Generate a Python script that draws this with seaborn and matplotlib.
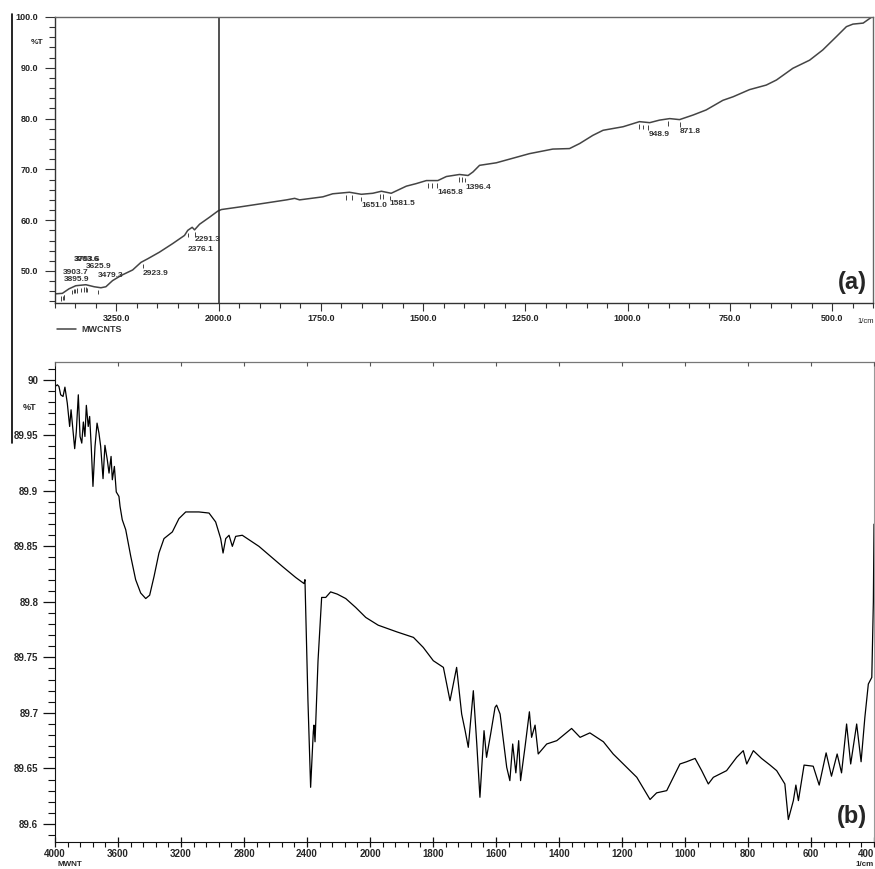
import numpy as np
import matplotlib
matplotlib.use("Agg")
import matplotlib.pyplot as plt
from matplotlib.lines import Line2D
from matplotlib.ticker import NullLocator
import seaborn as sns

# --- DATA: panel (a), MWCNTS, %T vs wavenumber (1/cm) ---
wn_a = [4000, 3910, 3828, 3746, 3623, 3521, 3439, 3378, 3297, 3194, 3051, 2949,
        2867, 2724, 2561, 2417, 2377, 2323, 2294, 2233, 2110, 2009, 1993, 1949,
        1883, 1834, 1814, 1802, 1745, 1721, 1680, 1651, 1623, 1602, 1578, 1541,
        1517, 1492, 1464, 1443, 1411, 1390, 1378, 1362, 1321, 1240, 1183, 1142,
        1117, 1085, 1060, 1011, 971, 946, 922, 897, 873, 840, 808, 767,
        742, 702, 661, 636, 596, 555, 523, 490, 465, 449, 424, 403]
pt_a = [45.5, 45.6, 46.5, 47.1, 47.3, 46.9, 46.7, 46.9, 48.1, 49.1, 50.2, 51.7,
        52.4, 53.7, 55.4, 57.0, 58.0, 58.6, 58.1, 59.2, 60.6, 61.8, 62.1, 62.6,
        63.4, 64.0, 64.3, 64.0, 64.6, 65.2, 65.5, 65.1, 65.3, 65.7, 65.3, 66.7,
        67.2, 67.8, 67.8, 68.6, 69.0, 68.8, 69.5, 70.8, 71.3, 73.1, 74.0, 74.1,
        75.1, 76.7, 77.7, 78.4, 79.4, 79.2, 79.7, 80.0, 79.8, 80.7, 81.7, 83.6,
        84.3, 85.7, 86.6, 87.6, 89.9, 91.5, 93.5, 96.1, 98.1, 98.6, 98.8, 100.0]

peak_wn_a = [3903.7, 3895.9, 3763.6, 3753.6, 3625.9, 3479.3, 2923.9, 2376.1,
             2291.3, 1651.0, 1581.5, 1465.8, 1396.4, 948.9, 871.8]
peak_lbl_a = ["3903.7", "3895.9", "3763.6", "3753.6", "3625.9", "3479.3", "2923.9",
              "2376.1", "2291.3", "1651.0", "1581.5", "1465.8", "1396.4", "948.9", "871.8"]
mark_wn_a = [3930, 3890, 3788, 3726, 3685, 3644, 3604, 1688, 1673, 1605, 1597,
             1487, 1478, 1412, 1406, 971, 963, 901]

# --- DATA: panel (b), MWNT ---
wn_b = [4000, 3985, 3975, 3964, 3949, 3937, 3922, 3907, 3898, 3886, 3875, 3865,
        3852, 3841, 3830, 3820, 3810, 3801, 3789, 3780, 3770, 3759, 3746, 3733,
        3721, 3710, 3695, 3683, 3668, 3657, 3644, 3636, 3623, 3611, 3594, 3587,
        3573, 3551, 3519, 3488, 3456, 3424, 3399, 3371, 3340, 3308, 3255, 3213,
        3170, 3086, 3022, 2980, 2948, 2933, 2916, 2895, 2874, 2853, 2811, 2705,
        2557, 2472, 2419, 2413, 2394, 2377, 2360, 2356, 2349, 2330, 2307, 2281,
        2250, 2208, 2154, 2091, 2027, 1974, 1915, 1862, 1831, 1799, 1767, 1746,
        1725, 1709, 1698, 1688, 1672, 1661, 1651, 1638, 1630, 1617, 1603, 1598,
        1587, 1566, 1556, 1547, 1537, 1528, 1522, 1508, 1494, 1487, 1476, 1466,
        1439, 1407, 1360, 1333, 1302, 1259, 1228, 1196, 1153, 1111, 1090, 1058,
        1016, 995, 968, 947, 926, 910, 868, 836, 815, 804, 783, 757,
        730, 709, 683, 672, 656, 648, 640, 622, 593, 574, 552, 535,
        517, 503, 487, 474, 455, 441, 429, 418, 407, 402, 400]
pt_b = [89.994, 89.9955, 89.994, 89.9865, 89.985, 89.9934, 89.979, 89.958, 89.973, 89.955, 89.938, 89.953,
        89.9865, 89.949, 89.943, 89.962, 89.949, 89.977, 89.958, 89.967, 89.940, 89.904, 89.940, 89.961,
        89.952, 89.940, 89.911, 89.941, 89.928, 89.916, 89.931, 89.910, 89.922, 89.899, 89.895, 89.886,
        89.874, 89.865, 89.841, 89.820, 89.808, 89.803, 89.806, 89.823, 89.844, 89.857, 89.863, 89.875,
        89.881, 89.881, 89.880, 89.872, 89.857, 89.844, 89.857, 89.860, 89.850, 89.859, 89.860, 89.850,
        89.832, 89.822, 89.8165, 89.820, 89.711, 89.633, 89.683, 89.689, 89.674, 89.747, 89.804, 89.804,
        89.809, 89.807, 89.803, 89.795, 89.786, 89.779, 89.773, 89.768, 89.759, 89.747, 89.741, 89.711,
        89.741, 89.699, 89.684, 89.669, 89.720, 89.672, 89.624, 89.684, 89.660, 89.681, 89.705, 89.707,
        89.699, 89.651, 89.639, 89.672, 89.646, 89.675, 89.639, 89.669, 89.701, 89.678, 89.689, 89.663,
        89.672, 89.675, 89.686, 89.678, 89.682, 89.674, 89.663, 89.654, 89.642, 89.622, 89.628, 89.630,
        89.654, 89.656, 89.659, 89.648, 89.636, 89.642, 89.648, 89.660, 89.666, 89.654, 89.666, 89.659,
        89.653, 89.648, 89.636, 89.604, 89.621, 89.635, 89.621, 89.653, 89.652, 89.635, 89.664, 89.643,
        89.663, 89.646, 89.690, 89.654, 89.690, 89.656, 89.696, 89.726, 89.732, 89.800, 89.870]

xticks_a = [3250, 2000, 1750, 1500, 1250, 1000, 750, 500]
yticks_a = [50, 60, 70, 80, 90, 100]
xticks_b = [4000, 3600, 3200, 2800, 2400, 2000, 1800, 1600, 1400, 1200, 1000, 800, 600, 400]
yticks_b = [89.6, 89.65, 89.7, 89.75, 89.8, 89.85, 89.9, 89.95, 90.0]

# --- LAYOUT (pixel helpers) ---
W, H = 875, 869
def fx(x):
    return x / W
def fy(y):
    return 1 - y / H

# text offsets of the peak labels in panel (a), relative to the curve (%T)
peak_dy_a = [4.1, 2.6, 5.3, 5.3, 3.5, 2.4, -2.5, -3.7, -2.0, -2.3, -2.1, -2.4, -2.5, -2.4, -2.4]


def split_scale(ratio):
    # the spectrometer stretches the part below 2000 1/cm
    def fwd(v):
        v = np.asarray(v, float)
        return np.where(v >= 2000, v, 2000 - (2000 - v) * ratio)

    def inv(u):
        u = np.asarray(u, float)
        return np.where(u >= 2000, u, 2000 - (2000 - u) / ratio)
    return fwd, inv


sns.set_style("ticks")
plt.rcParams["font.family"] = ["Liberation Sans", "DejaVu Sans"]

fig = plt.figure(figsize=(8.75, 8.69), dpi=100)
ax_a = fig.add_axes([fx(55), fy(303), (873 - 55) / W, (303 - 17) / H])
ax_b = fig.add_axes([fx(55), fy(841.7), (874 - 55) / W, (841.7 - 361.5) / H])

# --- PANEL (a) ---
grey = "#444444"
sns.lineplot(x=wn_a, y=pt_a, ax=ax_a, sort=False, estimator=None,
             color=grey, linewidth=1.1, label="MWCNTS")
ax_a.set_xscale("function", functions=split_scale(5))
ax_a.set_xlim(4000, 400)
ax_a.set_ylim(43.7, 100)
ax_a.axvline(2000, color="#222222", lw=1.1)
ax_a.set_xlabel("")
ax_a.set_ylabel("")

ax_a.set_xticks(xticks_a, labels=[f"{t:.1f}" for t in xticks_a])
minor_a = list(np.arange(4000, 2000, -250)) + list(np.arange(2000, 399, -50))
ax_a.set_xticks(minor_a, minor=True)
ax_a.set_yticks(yticks_a, labels=[f"{t:.1f}" for t in yticks_a])
ax_a.set_yticks(np.arange(44, 100, 2), minor=True)
ax_a.tick_params(which="both", direction="out", width=0.8, labelsize=6.5,
                 color="#333333", labelcolor="#222222")
ax_a.tick_params(axis="x", which="major", length=5.8, pad=2)
ax_a.tick_params(axis="x", which="minor", length=3.6)
ax_a.tick_params(axis="y", which="major", length=7, pad=5)
ax_a.tick_params(axis="y", which="minor", length=4)
for lbl in ax_a.get_xticklabels() + ax_a.get_yticklabels():
    lbl.set_fontweight("bold")
for side in ["left", "bottom"]:
    ax_a.spines[side].set_color("#333333")
for side in ["top", "right"]:
    ax_a.spines[side].set_color("#666666")
for s in ax_a.spines.values():
    s.set_linewidth(1.0)

# peak marks and labels
wn_rev = np.array(wn_a[::-1], float)
pt_rev = np.array(pt_a[::-1], float)
for w, lbl, dy in zip(peak_wn_a, peak_lbl_a, peak_dy_a):
    yc = np.interp(w, wn_rev, pt_rev)
    ax_a.vlines(w, yc - 1.4, yc - 0.5, color=grey, lw=0.7)
    ax_a.text(w, yc + dy, lbl, ha="left", va="center", fontsize=6,
              fontweight="bold", color="#333333")
for w in mark_wn_a:
    yc = np.interp(w, wn_rev, pt_rev)
    ax_a.vlines(w, yc - 1.4, yc - 0.5, color=grey, lw=0.7)

ax_a.legend(loc="upper left", bbox_to_anchor=(0.002, -0.076), frameon=False,
            fontsize=6.5, handlelength=2.2, handletextpad=0.55,
            borderaxespad=0, borderpad=0)
for t in ax_a.get_legend().get_texts():
    t.set_fontweight("bold")
    t.set_color("#333333")

# --- PANEL (b) ---
sns.lineplot(x=wn_b, y=pt_b, ax=ax_b, sort=False, estimator=None,
             color="black", linewidth=0.9)
ax_b.set_xscale("function", functions=split_scale(2))
ax_b.set_xlim(4000, 400)
ax_b.set_ylim(89.584, 90.0165)
ax_b.set_xlabel("")
ax_b.set_ylabel("")

ax_b.set_xticks(xticks_b, labels=[str(t) for t in xticks_b])
minor_b = list(np.arange(4000, 2000, -80)) + list(np.arange(2000, 399, -40))
ax_b.set_xticks(minor_b, minor=True)
ax_b.set_yticks(yticks_b, labels=[f"{t:g}" for t in yticks_b])
ax_b.set_yticks(np.arange(89.59, 90.011, 0.01), minor=True)
ax_b.tick_params(axis="x", which="major", direction="inout", length=7, width=0.9, pad=1.5)
ax_b.tick_params(axis="x", which="minor", direction="out", length=3.6, width=0.8)
ax_b.tick_params(axis="y", which="major", direction="out", length=9, width=0.9, pad=3)
ax_b.tick_params(axis="y", which="minor", direction="out", length=5, width=0.8)
ax_b.tick_params(which="both", color="#111111", labelsize=7)
for lbl in ax_b.get_xticklabels() + ax_b.get_yticklabels():
    lbl.set_fontweight("bold")
# keep the last label inside the picture
ax_b.get_xticklabels()[-1].set_horizontalalignment("right")
ax_b.spines["left"].set_color("#111111")
ax_b.spines["bottom"].set_color("#111111")
ax_b.spines["top"].set_color("#777777")
ax_b.spines["right"].set_color("#999999")
ax_b.spines["top"].set_linewidth(0.9)
ax_b.spines["right"].set_linewidth(0.8)

# small inward ticks along the top edge
ax_bt = ax_b.twiny()
ax_bt.set_xscale("function", functions=split_scale(2))
ax_bt.set_xlim(4000, 400)
ax_bt.set_xticks(xticks_b)
ax_bt.xaxis.set_minor_locator(NullLocator())
ax_bt.tick_params(axis="x", direction="in", length=3, width=0.8,
                  labeltop=False, color="#555555")
for s in ax_bt.spines.values():
    s.set_visible(False)

# --- FIGURE TEXT ---
fig.text(fx(37), fy(43), "%T", ha="center", va="center", fontsize=6,
         fontweight="bold", color="#222222")
fig.text(fx(866), fy(321), "1/cm", ha="center", va="center", fontsize=5.5,
         color="#222222")
fig.text(fx(30), fy(408), "%T", ha="center", va="center", fontsize=6.5,
         fontweight="bold")
fig.text(fx(57), fy(868.5), "MWNT", ha="left", va="bottom", fontsize=5.8, fontweight="bold")
fig.text(fx(874), fy(868.5), "1/cm", ha="right", va="bottom", fontsize=5.8, fontweight="bold")
fig.text(fx(852), fy(282), "(a)", ha="center", va="center", fontsize=17, fontweight="bold")
fig.text(fx(852), fy(816), "(b)", ha="center", va="center", fontsize=17, fontweight="bold")

# scanner edge line along the left margin
fig.add_artist(Line2D([fx(12), fx(12)], [fy(14), fy(443)], color="black", lw=1.2))

fig.savefig("out.png", dpi=100)
